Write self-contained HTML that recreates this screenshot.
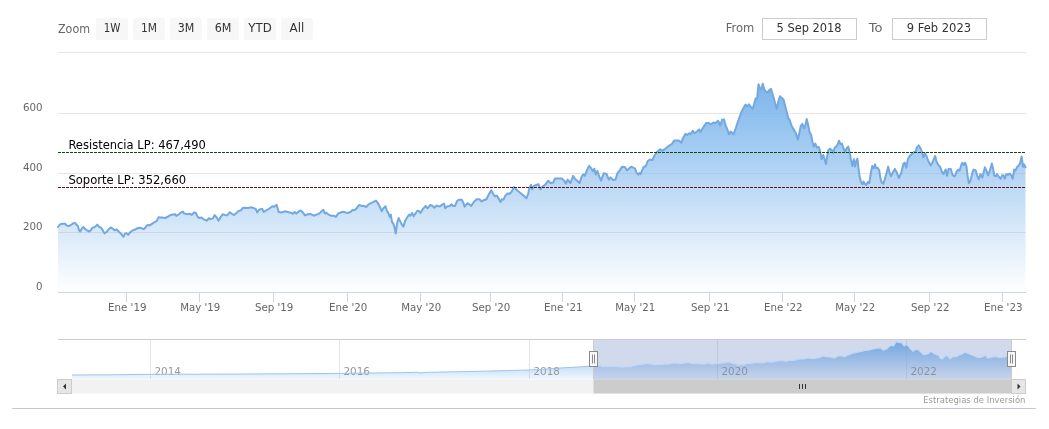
<!DOCTYPE html>
<html lang="es"><head><meta charset="utf-8"><title>Gráfico</title>
<style>html,body{margin:0;padding:0;background:#fff}body{width:1049px;height:429px;overflow:hidden;position:relative}svg{display:block;position:absolute;left:0;top:0}text{font-family:'DejaVu Sans','Liberation Sans',sans-serif}</style>
</head><body>
<svg width="1049" height="429" viewBox="0 0 1049 429">
<defs>
<linearGradient id="ga" x1="0" y1="0" x2="0" y2="1"><stop offset="0" stop-color="#7cb5ec" stop-opacity="1"/><stop offset="1" stop-color="#7cb5ec" stop-opacity="0"/></linearGradient>
<linearGradient id="gn" x1="0" y1="0" x2="0" y2="1"><stop offset="0" stop-color="#7cb5ec" stop-opacity="1"/><stop offset="1" stop-color="#7cb5ec" stop-opacity="0.12"/></linearGradient>
</defs>
<rect x="0" y="0" width="1049" height="429" fill="#ffffff"/>
<path d="M58 52.5 L1026 52.5" stroke="#e6e6e6" stroke-width="1" fill="none"/>
<path d="M58 113.5 L1026 113.5" stroke="#e6e6e6" stroke-width="1" fill="none"/>
<path d="M58 173.5 L1026 173.5" stroke="#e6e6e6" stroke-width="1" fill="none"/>
<path d="M58 232.5 L1026 232.5" stroke="#e6e6e6" stroke-width="1" fill="none"/>
<path d="M58 292.5 L1026 292.5" stroke="#ccd6eb" stroke-width="1" fill="none"/>
<path d="M126.5 292 L126.5 302" stroke="#ccd6eb" stroke-width="1" fill="none"/>
<path d="M199.5 292 L199.5 302" stroke="#ccd6eb" stroke-width="1" fill="none"/>
<path d="M273.5 292 L273.5 302" stroke="#ccd6eb" stroke-width="1" fill="none"/>
<path d="M347.5 292 L347.5 302" stroke="#ccd6eb" stroke-width="1" fill="none"/>
<path d="M420.5 292 L420.5 302" stroke="#ccd6eb" stroke-width="1" fill="none"/>
<path d="M490.5 292 L490.5 302" stroke="#ccd6eb" stroke-width="1" fill="none"/>
<path d="M562.5 292 L562.5 302" stroke="#ccd6eb" stroke-width="1" fill="none"/>
<path d="M634.5 292 L634.5 302" stroke="#ccd6eb" stroke-width="1" fill="none"/>
<path d="M709.5 292 L709.5 302" stroke="#ccd6eb" stroke-width="1" fill="none"/>
<path d="M782.5 292 L782.5 302" stroke="#ccd6eb" stroke-width="1" fill="none"/>
<path d="M854.5 292 L854.5 302" stroke="#ccd6eb" stroke-width="1" fill="none"/>
<path d="M929.5 292 L929.5 302" stroke="#ccd6eb" stroke-width="1" fill="none"/>
<path d="M1002.5 292 L1002.5 302" stroke="#ccd6eb" stroke-width="1" fill="none"/>
<path d="M58.0 227.0 L58.4 226.5 L60.1 224.3 L63.0 223.7 L65.3 223.8 L66.4 225.4 L68.7 226.1 L71.6 224.6 L72.7 223.5 L75.0 222.9 L76.2 224.6 L77.9 226.1 L79.0 230.3 L80.2 231.5 L81.9 228.4 L83.3 226.9 L84.7 228.6 L87.0 230.3 L89.3 231.5 L91.0 230.0 L92.2 228.0 L95.0 226.9 L97.3 224.6 L99.1 226.9 L101.3 228.0 L103.1 230.9 L104.4 233.4 L106.5 232.0 L108.8 229.2 L110.7 227.5 L112.8 228.6 L114.5 230.3 L116.8 229.5 L119.1 232.0 L121.4 234.1 L123.4 236.8 L124.8 233.8 L126.5 233.2 L128.2 234.9 L129.9 232.6 L132.2 230.7 L135.1 229.5 L138.0 228.0 L140.8 227.8 L143.7 229.2 L145.4 227.5 L147.7 224.9 L150.0 225.2 L153.4 222.9 L156.8 220.9 L158.5 217.2 L161.4 217.4 L165.4 218.0 L168.3 216.4 L170.0 215.3 L172.9 214.5 L175.1 214.2 L176.3 215.9 L178.6 214.5 L180.9 212.5 L182.6 211.5 L184.3 213.6 L187.2 214.2 L190.0 213.8 L191.7 215.0 L194.0 212.5 L195.7 212.8 L197.5 216.5 L199.2 218.0 L201.5 217.6 L203.8 219.3 L206.6 220.7 L208.9 218.2 L210.6 219.1 L212.9 218.4 L214.6 215.1 L216.3 217.0 L218.6 220.7 L220.3 217.6 L222.6 214.2 L224.9 215.0 L227.2 215.3 L229.8 212.2 L231.8 213.8 L234.1 215.0 L236.4 213.0 L238.6 211.1 L240.9 210.2 L243.2 207.7 L247.8 207.9 L251.8 207.3 L255.8 209.0 L257.2 212.5 L259.2 209.6 L262.1 208.8 L263.8 211.9 L266.7 210.2 L269.5 208.5 L272.4 206.2 L274.1 206.7 L276.6 204.7 L278.7 211.9 L281.6 212.5 L284.4 211.5 L285.0 211.2 L287.9 212.0 L290.7 212.7 L293.0 213.8 L294.7 212.0 L296.4 213.5 L298.7 211.5 L300.8 210.4 L302.7 212.3 L305.0 215.4 L307.9 214.3 L310.7 214.0 L313.6 215.7 L316.5 214.6 L319.3 213.5 L321.6 211.2 L323.3 209.7 L324.8 213.5 L326.4 212.7 L328.5 214.6 L330.8 215.7 L333.6 215.7 L335.9 216.9 L338.2 213.5 L341.1 212.3 L343.4 211.7 L346.8 212.9 L350.2 212.3 L352.5 210.0 L354.8 210.0 L357.1 207.7 L359.1 204.9 L361.7 206.0 L363.9 205.8 L366.2 207.2 L368.5 204.3 L372.0 202.6 L376.0 200.6 L378.3 203.7 L380.0 207.2 L381.7 211.2 L383.4 208.3 L385.5 206.2 L386.8 210.6 L388.5 213.5 L389.7 216.9 L390.8 214.6 L392.0 222.0 L393.1 223.2 L394.3 226.6 L395.8 233.5 L397.1 223.2 L398.6 218.0 L400.0 220.9 L401.7 224.3 L403.4 226.6 L405.1 220.9 L407.4 216.9 L409.2 214.6 L410.3 215.8 L412.0 212.9 L413.7 216.3 L415.4 213.5 L417.7 210.6 L418.9 211.2 L420.4 212.9 L422.9 208.9 L425.7 206.0 L427.5 208.3 L430.3 204.9 L432.6 206.0 L434.3 207.7 L436.6 205.5 L439.5 206.6 L441.8 204.9 L444.1 203.7 L445.2 208.3 L447.5 206.3 L449.8 206.0 L451.5 204.3 L453.2 206.0 L454.9 206.0 L457.2 200.9 L458.9 199.7 L461.8 199.7 L463.5 203.2 L464.6 206.6 L467.5 203.2 L469.2 204.3 L471.2 206.0 L473.8 202.0 L476.7 199.2 L479.5 199.2 L481.5 201.5 L483.5 200.3 L486.4 199.2 L488.7 194.6 L491.2 190.2 L493.2 194.0 L495.0 196.3 L497.0 195.7 L498.6 198.6 L500.5 202.0 L501.8 199.2 L503.5 199.7 L505.3 195.7 L507.6 193.4 L509.3 194.0 L511.6 191.7 L513.8 187.1 L515.0 188.2 L517.9 191.0 L520.7 193.3 L523.6 195.6 L526.4 198.2 L528.2 193.9 L529.3 188.2 L531.0 184.7 L532.2 189.3 L533.9 185.9 L536.2 185.0 L538.5 184.2 L540.4 189.3 L542.5 186.5 L545.3 184.7 L548.2 180.7 L550.5 183.0 L553.3 182.5 L555.0 178.5 L558.5 178.5 L561.9 178.5 L564.2 180.7 L565.9 183.6 L567.6 179.6 L570.5 183.0 L573.1 175.9 L575.1 179.0 L577.4 181.1 L579.6 183.0 L581.4 177.3 L583.1 174.5 L584.8 175.6 L587.1 169.9 L589.1 165.9 L591.1 168.2 L592.8 171.0 L594.3 168.7 L595.7 174.5 L597.4 171.0 L599.1 176.2 L601.0 180.7 L603.7 173.3 L606.5 173.9 L608.8 179.6 L610.5 177.3 L612.8 179.9 L615.5 179.6 L617.4 173.3 L619.7 170.4 L622.0 166.7 L624.8 167.0 L627.1 170.4 L629.4 168.2 L631.1 166.7 L633.4 167.6 L635.0 168.5 L636.6 172.9 L638.3 174.6 L639.5 172.9 L640.6 174.1 L643.5 167.2 L645.8 166.0 L647.7 161.0 L650.0 159.5 L652.3 160.1 L654.6 155.5 L656.9 152.0 L660.3 149.2 L662.0 150.9 L665.5 148.6 L668.9 145.8 L671.8 144.0 L674.1 140.6 L676.9 140.6 L679.2 140.6 L681.3 142.7 L683.2 137.7 L685.5 133.7 L687.2 134.9 L689.5 133.2 L690.6 134.3 L692.7 130.9 L694.6 133.2 L696.9 131.5 L699.0 129.4 L700.4 132.0 L703.2 127.4 L706.4 122.9 L708.9 122.9 L710.7 124.4 L713.5 122.5 L715.8 122.9 L718.1 120.6 L720.2 125.5 L722.1 119.8 L724.1 119.4 L725.5 125.2 L727.3 129.2 L729.0 134.3 L730.7 131.5 L733.5 134.3 L735.8 128.0 L736.1 127.0 L738.4 120.3 L741.3 112.3 L743.6 107.7 L745.5 104.5 L747.2 106.6 L749.0 104.3 L751.0 107.2 L752.7 108.9 L754.2 103.7 L755.6 98.6 L757.1 98.6 L758.5 84.3 L759.9 88.3 L761.1 89.4 L762.8 83.7 L764.2 88.9 L765.9 91.7 L767.6 92.3 L769.3 90.0 L771.0 88.9 L772.2 92.9 L773.9 98.6 L775.6 104.9 L776.8 108.9 L778.2 102.0 L779.9 96.3 L781.9 98.0 L783.6 99.7 L785.3 106.6 L787.1 113.5 L788.4 118.4 L789.6 119.6 L791.3 125.3 L793.6 129.3 L795.9 133.3 L797.8 139.6 L799.3 133.3 L800.8 125.9 L802.4 123.9 L803.9 128.2 L805.4 125.3 L806.7 119.0 L808.5 126.4 L809.6 132.2 L811.1 134.5 L812.5 141.9 L813.6 146.5 L815.3 143.6 L817.0 147.6 L818.8 147.0 L820.2 151.6 L821.6 159.1 L823.3 155.0 L825.0 160.8 L826.0 164.0 L826.8 158.5 L828.2 150.5 L829.9 148.8 L831.7 149.9 L833.1 152.8 L834.8 147.6 L836.3 146.5 L837.6 144.7 L839.0 140.7 L840.5 144.2 L841.9 143.6 L843.4 148.2 L845.0 151.7 L846.7 148.3 L848.2 146.6 L849.6 152.3 L850.9 159.2 L852.4 166.0 L853.9 159.2 L855.1 166.6 L856.4 160.9 L857.4 158.6 L858.5 168.3 L859.6 176.3 L861.0 182.0 L862.4 184.3 L863.5 181.5 L864.7 183.8 L866.2 184.9 L867.9 182.0 L869.3 183.2 L870.7 174.0 L872.2 166.0 L873.6 168.3 L875.0 164.3 L876.1 168.3 L877.6 167.7 L879.1 170.0 L880.5 178.6 L881.8 182.6 L883.3 183.8 L884.8 179.2 L886.4 173.5 L888.2 166.6 L889.6 172.9 L891.0 176.3 L892.8 172.3 L894.8 168.9 L896.7 172.3 L898.8 178.0 L901.1 173.5 L903.4 163.7 L904.7 162.6 L906.2 167.7 L907.9 159.2 L909.6 156.3 L911.9 154.0 L913.7 152.3 L915.4 151.7 L917.1 147.1 L918.8 145.4 L920.5 148.3 L922.2 152.3 L923.4 157.4 L925.1 153.4 L926.8 156.9 L928.5 161.5 L930.8 165.5 L933.1 160.9 L935.2 156.0 L936.5 161.5 L938.3 164.9 L940.0 166.6 L941.7 171.2 L943.4 174.0 L945.7 169.5 L947.1 175.8 L948.5 168.9 L950.8 168.9 L952.6 175.2 L954.3 176.3 L955.0 175.8 L956.7 171.3 L958.2 169.6 L959.6 170.7 L961.3 165.0 L962.4 162.7 L963.9 165.0 L965.1 162.7 L966.4 166.1 L967.6 175.8 L968.9 183.3 L970.4 181.0 L972.1 173.6 L973.5 169.6 L975.6 170.1 L977.3 175.8 L978.8 179.3 L980.4 174.1 L982.4 177.6 L983.6 172.4 L984.9 167.3 L986.4 170.7 L988.1 175.3 L989.8 170.7 L991.8 163.5 L993.3 169.6 L994.4 175.8 L995.9 176.4 L997.0 174.1 L999.0 177.0 L1000.7 178.7 L1002.1 175.3 L1003.5 175.3 L1004.7 178.7 L1006.4 174.1 L1008.1 174.7 L1009.8 173.6 L1011.5 175.8 L1012.7 178.7 L1014.2 169.6 L1015.5 170.7 L1017.2 166.7 L1018.7 165.6 L1020.1 163.3 L1021.6 156.4 L1023.0 166.7 L1024.1 164.4 L1025.5 167.3 L1025.5 292.5 L58.0 292.5 Z" fill="url(#ga)" stroke="none"/>
<path d="M58.0 227.0 L58.4 226.5 L60.1 224.3 L63.0 223.7 L65.3 223.8 L66.4 225.4 L68.7 226.1 L71.6 224.6 L72.7 223.5 L75.0 222.9 L76.2 224.6 L77.9 226.1 L79.0 230.3 L80.2 231.5 L81.9 228.4 L83.3 226.9 L84.7 228.6 L87.0 230.3 L89.3 231.5 L91.0 230.0 L92.2 228.0 L95.0 226.9 L97.3 224.6 L99.1 226.9 L101.3 228.0 L103.1 230.9 L104.4 233.4 L106.5 232.0 L108.8 229.2 L110.7 227.5 L112.8 228.6 L114.5 230.3 L116.8 229.5 L119.1 232.0 L121.4 234.1 L123.4 236.8 L124.8 233.8 L126.5 233.2 L128.2 234.9 L129.9 232.6 L132.2 230.7 L135.1 229.5 L138.0 228.0 L140.8 227.8 L143.7 229.2 L145.4 227.5 L147.7 224.9 L150.0 225.2 L153.4 222.9 L156.8 220.9 L158.5 217.2 L161.4 217.4 L165.4 218.0 L168.3 216.4 L170.0 215.3 L172.9 214.5 L175.1 214.2 L176.3 215.9 L178.6 214.5 L180.9 212.5 L182.6 211.5 L184.3 213.6 L187.2 214.2 L190.0 213.8 L191.7 215.0 L194.0 212.5 L195.7 212.8 L197.5 216.5 L199.2 218.0 L201.5 217.6 L203.8 219.3 L206.6 220.7 L208.9 218.2 L210.6 219.1 L212.9 218.4 L214.6 215.1 L216.3 217.0 L218.6 220.7 L220.3 217.6 L222.6 214.2 L224.9 215.0 L227.2 215.3 L229.8 212.2 L231.8 213.8 L234.1 215.0 L236.4 213.0 L238.6 211.1 L240.9 210.2 L243.2 207.7 L247.8 207.9 L251.8 207.3 L255.8 209.0 L257.2 212.5 L259.2 209.6 L262.1 208.8 L263.8 211.9 L266.7 210.2 L269.5 208.5 L272.4 206.2 L274.1 206.7 L276.6 204.7 L278.7 211.9 L281.6 212.5 L284.4 211.5 L285.0 211.2 L287.9 212.0 L290.7 212.7 L293.0 213.8 L294.7 212.0 L296.4 213.5 L298.7 211.5 L300.8 210.4 L302.7 212.3 L305.0 215.4 L307.9 214.3 L310.7 214.0 L313.6 215.7 L316.5 214.6 L319.3 213.5 L321.6 211.2 L323.3 209.7 L324.8 213.5 L326.4 212.7 L328.5 214.6 L330.8 215.7 L333.6 215.7 L335.9 216.9 L338.2 213.5 L341.1 212.3 L343.4 211.7 L346.8 212.9 L350.2 212.3 L352.5 210.0 L354.8 210.0 L357.1 207.7 L359.1 204.9 L361.7 206.0 L363.9 205.8 L366.2 207.2 L368.5 204.3 L372.0 202.6 L376.0 200.6 L378.3 203.7 L380.0 207.2 L381.7 211.2 L383.4 208.3 L385.5 206.2 L386.8 210.6 L388.5 213.5 L389.7 216.9 L390.8 214.6 L392.0 222.0 L393.1 223.2 L394.3 226.6 L395.8 233.5 L397.1 223.2 L398.6 218.0 L400.0 220.9 L401.7 224.3 L403.4 226.6 L405.1 220.9 L407.4 216.9 L409.2 214.6 L410.3 215.8 L412.0 212.9 L413.7 216.3 L415.4 213.5 L417.7 210.6 L418.9 211.2 L420.4 212.9 L422.9 208.9 L425.7 206.0 L427.5 208.3 L430.3 204.9 L432.6 206.0 L434.3 207.7 L436.6 205.5 L439.5 206.6 L441.8 204.9 L444.1 203.7 L445.2 208.3 L447.5 206.3 L449.8 206.0 L451.5 204.3 L453.2 206.0 L454.9 206.0 L457.2 200.9 L458.9 199.7 L461.8 199.7 L463.5 203.2 L464.6 206.6 L467.5 203.2 L469.2 204.3 L471.2 206.0 L473.8 202.0 L476.7 199.2 L479.5 199.2 L481.5 201.5 L483.5 200.3 L486.4 199.2 L488.7 194.6 L491.2 190.2 L493.2 194.0 L495.0 196.3 L497.0 195.7 L498.6 198.6 L500.5 202.0 L501.8 199.2 L503.5 199.7 L505.3 195.7 L507.6 193.4 L509.3 194.0 L511.6 191.7 L513.8 187.1 L515.0 188.2 L517.9 191.0 L520.7 193.3 L523.6 195.6 L526.4 198.2 L528.2 193.9 L529.3 188.2 L531.0 184.7 L532.2 189.3 L533.9 185.9 L536.2 185.0 L538.5 184.2 L540.4 189.3 L542.5 186.5 L545.3 184.7 L548.2 180.7 L550.5 183.0 L553.3 182.5 L555.0 178.5 L558.5 178.5 L561.9 178.5 L564.2 180.7 L565.9 183.6 L567.6 179.6 L570.5 183.0 L573.1 175.9 L575.1 179.0 L577.4 181.1 L579.6 183.0 L581.4 177.3 L583.1 174.5 L584.8 175.6 L587.1 169.9 L589.1 165.9 L591.1 168.2 L592.8 171.0 L594.3 168.7 L595.7 174.5 L597.4 171.0 L599.1 176.2 L601.0 180.7 L603.7 173.3 L606.5 173.9 L608.8 179.6 L610.5 177.3 L612.8 179.9 L615.5 179.6 L617.4 173.3 L619.7 170.4 L622.0 166.7 L624.8 167.0 L627.1 170.4 L629.4 168.2 L631.1 166.7 L633.4 167.6 L635.0 168.5 L636.6 172.9 L638.3 174.6 L639.5 172.9 L640.6 174.1 L643.5 167.2 L645.8 166.0 L647.7 161.0 L650.0 159.5 L652.3 160.1 L654.6 155.5 L656.9 152.0 L660.3 149.2 L662.0 150.9 L665.5 148.6 L668.9 145.8 L671.8 144.0 L674.1 140.6 L676.9 140.6 L679.2 140.6 L681.3 142.7 L683.2 137.7 L685.5 133.7 L687.2 134.9 L689.5 133.2 L690.6 134.3 L692.7 130.9 L694.6 133.2 L696.9 131.5 L699.0 129.4 L700.4 132.0 L703.2 127.4 L706.4 122.9 L708.9 122.9 L710.7 124.4 L713.5 122.5 L715.8 122.9 L718.1 120.6 L720.2 125.5 L722.1 119.8 L724.1 119.4 L725.5 125.2 L727.3 129.2 L729.0 134.3 L730.7 131.5 L733.5 134.3 L735.8 128.0 L736.1 127.0 L738.4 120.3 L741.3 112.3 L743.6 107.7 L745.5 104.5 L747.2 106.6 L749.0 104.3 L751.0 107.2 L752.7 108.9 L754.2 103.7 L755.6 98.6 L757.1 98.6 L758.5 84.3 L759.9 88.3 L761.1 89.4 L762.8 83.7 L764.2 88.9 L765.9 91.7 L767.6 92.3 L769.3 90.0 L771.0 88.9 L772.2 92.9 L773.9 98.6 L775.6 104.9 L776.8 108.9 L778.2 102.0 L779.9 96.3 L781.9 98.0 L783.6 99.7 L785.3 106.6 L787.1 113.5 L788.4 118.4 L789.6 119.6 L791.3 125.3 L793.6 129.3 L795.9 133.3 L797.8 139.6 L799.3 133.3 L800.8 125.9 L802.4 123.9 L803.9 128.2 L805.4 125.3 L806.7 119.0 L808.5 126.4 L809.6 132.2 L811.1 134.5 L812.5 141.9 L813.6 146.5 L815.3 143.6 L817.0 147.6 L818.8 147.0 L820.2 151.6 L821.6 159.1 L823.3 155.0 L825.0 160.8 L826.0 164.0 L826.8 158.5 L828.2 150.5 L829.9 148.8 L831.7 149.9 L833.1 152.8 L834.8 147.6 L836.3 146.5 L837.6 144.7 L839.0 140.7 L840.5 144.2 L841.9 143.6 L843.4 148.2 L845.0 151.7 L846.7 148.3 L848.2 146.6 L849.6 152.3 L850.9 159.2 L852.4 166.0 L853.9 159.2 L855.1 166.6 L856.4 160.9 L857.4 158.6 L858.5 168.3 L859.6 176.3 L861.0 182.0 L862.4 184.3 L863.5 181.5 L864.7 183.8 L866.2 184.9 L867.9 182.0 L869.3 183.2 L870.7 174.0 L872.2 166.0 L873.6 168.3 L875.0 164.3 L876.1 168.3 L877.6 167.7 L879.1 170.0 L880.5 178.6 L881.8 182.6 L883.3 183.8 L884.8 179.2 L886.4 173.5 L888.2 166.6 L889.6 172.9 L891.0 176.3 L892.8 172.3 L894.8 168.9 L896.7 172.3 L898.8 178.0 L901.1 173.5 L903.4 163.7 L904.7 162.6 L906.2 167.7 L907.9 159.2 L909.6 156.3 L911.9 154.0 L913.7 152.3 L915.4 151.7 L917.1 147.1 L918.8 145.4 L920.5 148.3 L922.2 152.3 L923.4 157.4 L925.1 153.4 L926.8 156.9 L928.5 161.5 L930.8 165.5 L933.1 160.9 L935.2 156.0 L936.5 161.5 L938.3 164.9 L940.0 166.6 L941.7 171.2 L943.4 174.0 L945.7 169.5 L947.1 175.8 L948.5 168.9 L950.8 168.9 L952.6 175.2 L954.3 176.3 L955.0 175.8 L956.7 171.3 L958.2 169.6 L959.6 170.7 L961.3 165.0 L962.4 162.7 L963.9 165.0 L965.1 162.7 L966.4 166.1 L967.6 175.8 L968.9 183.3 L970.4 181.0 L972.1 173.6 L973.5 169.6 L975.6 170.1 L977.3 175.8 L978.8 179.3 L980.4 174.1 L982.4 177.6 L983.6 172.4 L984.9 167.3 L986.4 170.7 L988.1 175.3 L989.8 170.7 L991.8 163.5 L993.3 169.6 L994.4 175.8 L995.9 176.4 L997.0 174.1 L999.0 177.0 L1000.7 178.7 L1002.1 175.3 L1003.5 175.3 L1004.7 178.7 L1006.4 174.1 L1008.1 174.7 L1009.8 173.6 L1011.5 175.8 L1012.7 178.7 L1014.2 169.6 L1015.5 170.7 L1017.2 166.7 L1018.7 165.6 L1020.1 163.3 L1021.6 156.4 L1023.0 166.7 L1024.1 164.4 L1025.5 167.3" fill="none" stroke="#74a8e0" stroke-width="2" stroke-linejoin="round" stroke-linecap="round"/>
<path d="M58 152.5 L1026 152.5" stroke="#0f4a0f" stroke-width="1" stroke-dasharray="3,1" fill="none"/>
<path d="M58 187.5 L1026 187.5" stroke="#6b0f14" stroke-width="1" stroke-dasharray="3,1" fill="none"/>
<text x="68.4" y="148.6" font-size="12" fill="#000000" textLength="137.4" lengthAdjust="spacingAndGlyphs">Resistencia LP: 467,490</text>
<text x="68.4" y="183.6" font-size="12" fill="#000000" textLength="117.7" lengthAdjust="spacingAndGlyphs">Soporte LP: 352,660</text>
<text x="108.0" y="310.6" font-size="11" fill="#666666" textLength="38.5" lengthAdjust="spacingAndGlyphs">Ene '19</text>
<text x="180.2" y="310.6" font-size="11" fill="#666666" textLength="40.0" lengthAdjust="spacingAndGlyphs">May '19</text>
<text x="254.9" y="310.6" font-size="11" fill="#666666" textLength="38.5" lengthAdjust="spacingAndGlyphs">Sep '19</text>
<text x="328.9" y="310.6" font-size="11" fill="#666666" textLength="38.5" lengthAdjust="spacingAndGlyphs">Ene '20</text>
<text x="401.2" y="310.6" font-size="11" fill="#666666" textLength="40.0" lengthAdjust="spacingAndGlyphs">May '20</text>
<text x="471.9" y="310.6" font-size="11" fill="#666666" textLength="38.5" lengthAdjust="spacingAndGlyphs">Sep '20</text>
<text x="544.0" y="310.6" font-size="11" fill="#666666" textLength="38.5" lengthAdjust="spacingAndGlyphs">Ene '21</text>
<text x="615.2" y="310.6" font-size="11" fill="#666666" textLength="40.0" lengthAdjust="spacingAndGlyphs">May '21</text>
<text x="691.0" y="310.6" font-size="11" fill="#666666" textLength="38.5" lengthAdjust="spacingAndGlyphs">Sep '21</text>
<text x="764.0" y="310.6" font-size="11" fill="#666666" textLength="38.5" lengthAdjust="spacingAndGlyphs">Ene '22</text>
<text x="835.2" y="310.6" font-size="11" fill="#666666" textLength="40.0" lengthAdjust="spacingAndGlyphs">May '22</text>
<text x="911.0" y="310.6" font-size="11" fill="#666666" textLength="38.5" lengthAdjust="spacingAndGlyphs">Sep '22</text>
<text x="984.0" y="310.6" font-size="11" fill="#666666" textLength="38.5" lengthAdjust="spacingAndGlyphs">Ene '23</text>
<text x="23.0" y="111" font-size="11" fill="#666666" textLength="19.6" lengthAdjust="spacingAndGlyphs">600</text>
<text x="23.0" y="171" font-size="11" fill="#666666" textLength="19.6" lengthAdjust="spacingAndGlyphs">400</text>
<text x="23.0" y="230" font-size="11" fill="#666666" textLength="19.6" lengthAdjust="spacingAndGlyphs">200</text>
<text x="36.1" y="290" font-size="11" fill="#666666" textLength="6.5" lengthAdjust="spacingAndGlyphs">0</text>
<text x="58" y="33" font-size="12" fill="#666666" textLength="32" lengthAdjust="spacingAndGlyphs">Zoom</text>
<rect x="96" y="18" width="32" height="22" rx="2" ry="2" fill="#f7f7f7"/>
<text x="103.7" y="32.2" font-size="12" fill="#333333" textLength="16.7" lengthAdjust="spacingAndGlyphs">1W</text>
<rect x="133" y="18" width="32" height="22" rx="2" ry="2" fill="#f7f7f7"/>
<text x="141.0" y="32.2" font-size="12" fill="#333333" textLength="16" lengthAdjust="spacingAndGlyphs">1M</text>
<rect x="170" y="18" width="32" height="22" rx="2" ry="2" fill="#f7f7f7"/>
<text x="177.7" y="32.2" font-size="12" fill="#333333" textLength="16.6" lengthAdjust="spacingAndGlyphs">3M</text>
<rect x="207" y="18" width="32" height="22" rx="2" ry="2" fill="#f7f7f7"/>
<text x="214.7" y="32.2" font-size="12" fill="#333333" textLength="16.7" lengthAdjust="spacingAndGlyphs">6M</text>
<rect x="244" y="18" width="32" height="22" rx="2" ry="2" fill="#f7f7f7"/>
<text x="248.3" y="32.2" font-size="12" fill="#333333" textLength="23.4" lengthAdjust="spacingAndGlyphs">YTD</text>
<rect x="281" y="18" width="32" height="22" rx="2" ry="2" fill="#f7f7f7"/>
<text x="289.6" y="32.2" font-size="12" fill="#333333" textLength="14.7" lengthAdjust="spacingAndGlyphs">All</text>
<text x="725.7" y="31.5" font-size="12" fill="#666666" textLength="28.6" lengthAdjust="spacingAndGlyphs">From</text>
<rect x="762.5" y="18.5" width="94" height="21" fill="none" stroke="#cccccc" stroke-width="1"/>
<text x="776.6" y="31.5" font-size="12" fill="#333333" textLength="65" lengthAdjust="spacingAndGlyphs">5 Sep 2018</text>
<text x="868.7" y="31.5" font-size="12" fill="#666666" textLength="13.7" lengthAdjust="spacingAndGlyphs">To</text>
<rect x="892.5" y="18.5" width="94" height="21" fill="none" stroke="#cccccc" stroke-width="1"/>
<text x="906.7" y="31.5" font-size="12" fill="#333333" textLength="64.4" lengthAdjust="spacingAndGlyphs">9 Feb 2023</text>
<path d="M150.5 339 L150.5 379" stroke="#e6e6e6" stroke-width="1" fill="none"/>
<path d="M339.5 339 L339.5 379" stroke="#e6e6e6" stroke-width="1" fill="none"/>
<path d="M529.5 339 L529.5 379" stroke="#e6e6e6" stroke-width="1" fill="none"/>
<path d="M717.5 339 L717.5 379" stroke="#e6e6e6" stroke-width="1" fill="none"/>
<path d="M906.5 339 L906.5 379" stroke="#e6e6e6" stroke-width="1" fill="none"/>
<path d="M72.0 375.0 L110.0 374.8 L150.0 374.3 L200.0 374.2 L250.0 374.0 L300.0 373.7 L339.0 373.4 L370.0 373.0 L400.0 372.7 L417.0 372.3 L420.0 373.0 L425.0 372.4 L470.0 371.5 L500.0 370.8 L529.0 370.0 L545.0 369.2 L560.0 368.0 L575.0 367.2 L585.0 366.5 L593.5 366.1 L596.7 365.5 L599.9 365.5 L602.6 366.7 L605.0 366.4 L608.3 366.3 L612.2 366.3 L615.4 366.5 L618.9 366.5 L622.4 367.2 L625.6 366.7 L630.5 366.5 L634.7 365.4 L639.9 364.5 L644.1 363.9 L647.3 363.4 L651.3 364.0 L654.5 364.5 L658.7 364.6 L661.9 364.4 L665.6 364.0 L669.6 364.0 L673.5 362.8 L679.6 363.6 L683.7 363.2 L687.9 362.3 L691.6 363.4 L695.8 363.5 L699.2 363.6 L703.9 364.2 L708.1 363.1 L711.4 364.2 L715.8 363.6 L720.7 363.2 L724.7 362.5 L729.2 361.9 L733.4 363.4 L736.3 363.8 L738.3 365.4 L740.7 364.5 L743.5 365.0 L746.4 363.7 L749.4 363.4 L753.1 362.9 L757.1 362.4 L760.8 362.9 L764.2 362.5 L768.0 361.4 L771.2 362.2 L775.6 361.3 L779.6 360.6 L783.2 360.7 L786.0 361.4 L789.5 360.1 L793.4 360.3 L797.1 359.5 L800.1 358.9 L804.0 358.9 L808.2 357.8 L812.9 358.7 L816.9 357.9 L820.4 357.1 L823.8 356.0 L826.5 356.5 L830.5 357.0 L834.4 358.0 L838.4 355.8 L842.1 355.9 L844.7 356.8 L848.3 354.8 L852.2 353.3 L857.4 352.2 L861.9 351.3 L865.3 350.3 L868.5 350.1 L872.3 349.1 L876.7 348.2 L880.4 347.8 L883.4 350.2 L886.5 349.0 L890.5 345.2 L893.6 345.9 L896.1 341.7 L898.6 342.5 L901.5 342.5 L904.1 345.9 L907.0 344.3 L909.6 347.7 L913.1 351.2 L915.8 349.2 L918.2 349.9 L920.7 351.8 L923.4 354.5 L925.7 354.4 L928.4 353.4 L930.9 351.3 L933.5 353.2 L936.1 354.5 L938.4 354.8 L940.4 358.4 L942.7 358.9 L945.3 355.7 L947.6 356.0 L950.1 358.7 L952.8 356.8 L955.9 356.7 L959.3 355.1 L962.4 353.6 L965.4 352.1 L968.1 353.5 L971.6 354.8 L974.6 355.8 L977.6 357.3 L980.7 357.4 L983.0 356.5 L985.4 355.1 L987.7 358.2 L990.7 357.3 L993.4 356.8 L996.1 356.5 L998.7 357.4 L1001.4 357.3 L1004.0 357.1 L1006.6 356.3 L1009.2 355.2 L1011.5 355.9 L1011.5 355.9 L1011.5 379 L72.0 379 Z" fill="url(#gn)" stroke="none"/>
<text x="154.5" y="374.6" font-size="11" fill="#999999" textLength="26.5" lengthAdjust="spacingAndGlyphs">2014</text>
<text x="343.5" y="374.6" font-size="11" fill="#999999" textLength="26.5" lengthAdjust="spacingAndGlyphs">2016</text>
<text x="533.5" y="374.6" font-size="11" fill="#999999" textLength="26.5" lengthAdjust="spacingAndGlyphs">2018</text>
<text x="721.5" y="374.6" font-size="11" fill="#999999" textLength="26.5" lengthAdjust="spacingAndGlyphs">2020</text>
<text x="910.5" y="374.6" font-size="11" fill="#999999" textLength="26.5" lengthAdjust="spacingAndGlyphs">2022</text>
<rect x="593.5" y="339" width="418.0" height="40" fill="#6685c2" fill-opacity="0.3"/>
<path d="M72.0 375.0 L110.0 374.8 L150.0 374.3 L200.0 374.2 L250.0 374.0 L300.0 373.7 L339.0 373.4 L370.0 373.0 L400.0 372.7 L417.0 372.3 L420.0 373.0 L425.0 372.4 L470.0 371.5 L500.0 370.8 L529.0 370.0 L545.0 369.2 L560.0 368.0 L575.0 367.2 L585.0 366.5 L593.5 366.1" fill="none" stroke="#9fc4ec" stroke-width="1" stroke-linejoin="round"/>
<path d="M593.5 366.1 L596.7 365.5 L599.9 365.5 L602.6 366.7 L605.0 366.4 L608.3 366.3 L612.2 366.3 L615.4 366.5 L618.9 366.5 L622.4 367.2 L625.6 366.7 L630.5 366.5 L634.7 365.4 L639.9 364.5 L644.1 363.9 L647.3 363.4 L651.3 364.0 L654.5 364.5 L658.7 364.6 L661.9 364.4 L665.6 364.0 L669.6 364.0 L673.5 362.8 L679.6 363.6 L683.7 363.2 L687.9 362.3 L691.6 363.4 L695.8 363.5 L699.2 363.6 L703.9 364.2 L708.1 363.1 L711.4 364.2 L715.8 363.6 L720.7 363.2 L724.7 362.5 L729.2 361.9 L733.4 363.4 L736.3 363.8 L738.3 365.4 L740.7 364.5 L743.5 365.0 L746.4 363.7 L749.4 363.4 L753.1 362.9 L757.1 362.4 L760.8 362.9 L764.2 362.5 L768.0 361.4 L771.2 362.2 L775.6 361.3 L779.6 360.6 L783.2 360.7 L786.0 361.4 L789.5 360.1 L793.4 360.3 L797.1 359.5 L800.1 358.9 L804.0 358.9 L808.2 357.8 L812.9 358.7 L816.9 357.9 L820.4 357.1 L823.8 356.0 L826.5 356.5 L830.5 357.0 L834.4 358.0 L838.4 355.8 L842.1 355.9 L844.7 356.8 L848.3 354.8 L852.2 353.3 L857.4 352.2 L861.9 351.3 L865.3 350.3 L868.5 350.1 L872.3 349.1 L876.7 348.2 L880.4 347.8 L883.4 350.2 L886.5 349.0 L890.5 345.2 L893.6 345.9 L896.1 341.7 L898.6 342.5 L901.5 342.5 L904.1 345.9 L907.0 344.3 L909.6 347.7 L913.1 351.2 L915.8 349.2 L918.2 349.9 L920.7 351.8 L923.4 354.5 L925.7 354.4 L928.4 353.4 L930.9 351.3 L933.5 353.2 L936.1 354.5 L938.4 354.8 L940.4 358.4 L942.7 358.9 L945.3 355.7 L947.6 356.0 L950.1 358.7 L952.8 356.8 L955.9 356.7 L959.3 355.1 L962.4 353.6 L965.4 352.1 L968.1 353.5 L971.6 354.8 L974.6 355.8 L977.6 357.3 L980.7 357.4 L983.0 356.5 L985.4 355.1 L987.7 358.2 L990.7 357.3 L993.4 356.8 L996.1 356.5 L998.7 357.4 L1001.4 357.3 L1004.0 357.1 L1006.6 356.3 L1009.2 355.2 L1011.5 355.9 L1011.5 355.9" fill="none" stroke="#c0d8f5" stroke-width="1.3" stroke-linejoin="round"/>
<path d="M58 339.5 L1026 339.5 M593.5 339.5 L593.5 379.5 L1011.5 379.5 L1011.5 339.5" stroke="#cccccc" stroke-width="1" fill="none"/>
<rect x="589.5" y="351.5" width="8" height="15" fill="#f7f7f7" stroke="#8a8a8a" stroke-width="1"/>
<path d="M592.5 354.5 L592.5 363.5 M594.5 354.5 L594.5 363.5" stroke="#8a8a8a" stroke-width="1" fill="none"/>
<rect x="1007.5" y="351.5" width="8" height="15" fill="#f7f7f7" stroke="#8a8a8a" stroke-width="1"/>
<path d="M1010.5 354.5 L1010.5 363.5 M1012.5 354.5 L1012.5 363.5" stroke="#8a8a8a" stroke-width="1" fill="none"/>
<rect x="58" y="379.5" width="968" height="14" fill="#f2f2f2"/>
<rect x="593.5" y="379.5" width="418.0" height="14" fill="#cccccc"/>
<rect x="57.5" y="379.5" width="14" height="14" fill="#e6e6e6" stroke="#cccccc" stroke-width="1"/>
<rect x="1011.5" y="379.5" width="14" height="14" fill="#e6e6e6" stroke="#cccccc" stroke-width="1"/>
<path d="M66 383.5 L66 389.5 L63 386.5 Z" fill="#333333"/>
<path d="M1017.5 383.5 L1017.5 389.5 L1020.5 386.5 Z" fill="#333333"/>
<path d="M799.5 384 L799.5 389 M802.5 384 L802.5 389 M805.5 384 L805.5 389" stroke="#333333" stroke-width="1" fill="none"/>
<text x="923.2" y="402.8" font-size="9" fill="#999999" textLength="102.3" lengthAdjust="spacingAndGlyphs">Estrategias de Inversión</text>
<path d="M12 408.5 L1036 408.5" stroke="#c3c9da" stroke-width="1" fill="none"/>
</svg>
</body></html>
